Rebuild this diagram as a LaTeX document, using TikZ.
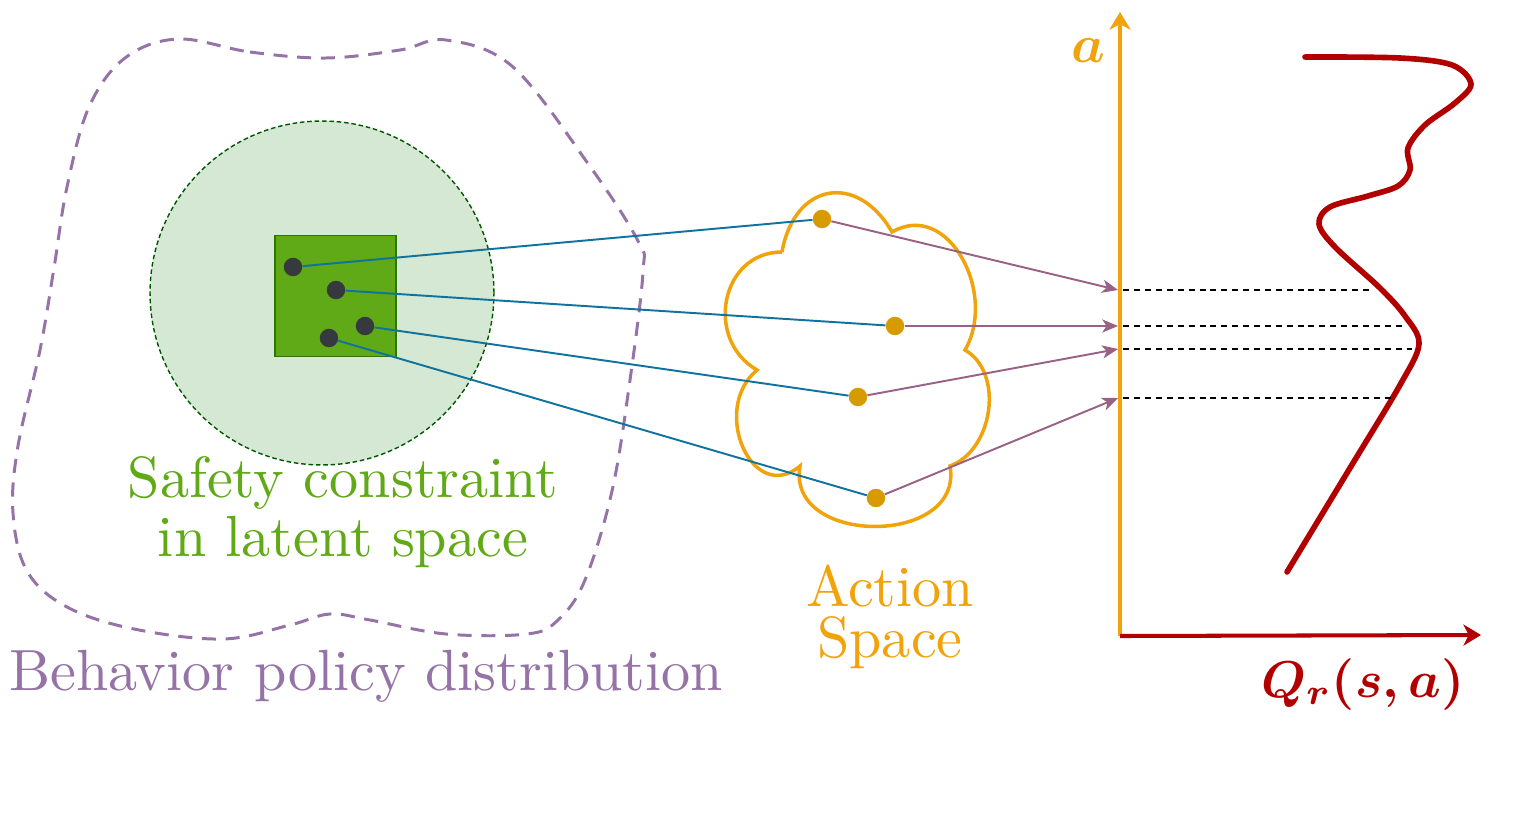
\documentclass[tikz,border=0pt]{standalone}
\usepackage{tikz}
\usepackage{amsmath}
\usetikzlibrary{arrows.meta}

\definecolor{behpurple}{HTML}{9673A6}
\definecolor{safelight}{HTML}{D5E8D4}
\definecolor{safedark}{HTML}{005700}
\definecolor{boxgreen}{HTML}{60A917}
\definecolor{boxedge}{HTML}{2D7600}
\definecolor{dotgray}{HTML}{36393D}
\definecolor{actgold}{HTML}{D79B00}
\definecolor{actorange}{HTML}{F0A30A}
\definecolor{mapblue}{HTML}{10739E}
\definecolor{arrpurple}{HTML}{996185}
\definecolor{qred}{HTML}{B20000}

\tikzstyle{bigtext} = [
    inner sep=0pt,
    scale=3.31,
    transform shape,
    font=\fontsize{10}{8.9}\selectfont
]
\tikzstyle{behavior} = [
    draw=behpurple,
    line width=1.7pt,
    dash pattern=on 8pt off 5.5pt
]
\tikzstyle{safezone} = [
    circle,
    minimum size=6.88cm,
    fill=safelight,
    draw=safedark,
    line width=0.8pt,
    dash pattern=on 2.6pt off 1.6pt
]
\tikzstyle{latentbox} = [
    rectangle,
    minimum size=2.42cm,
    fill=boxgreen,
    draw=boxedge,
    line width=1pt
]
\tikzstyle{latentdot} = [
    circle,
    minimum size=10.5pt,
    inner sep=0pt,
    fill=dotgray
]
\tikzstyle{actiondot} = [
    circle,
    minimum size=10.5pt,
    inner sep=0pt,
    fill=actgold
]
\tikzstyle{mapline} = [draw=mapblue, line width=1.1pt]
\tikzstyle{arrow} = [
    draw=arrpurple,
    line width=1.1pt,
    -{Stealth[length=9pt, width=7.5pt, inset=2.5pt]}
]
\tikzstyle{cloudline} = [draw=actorange, line width=2pt]
\tikzstyle{actaxis} = [
    draw=actorange,
    line width=2.3pt,
    -{Stealth[length=10pt, width=12pt, inset=3pt]}
]
\tikzstyle{qaxis} = [
    draw=qred,
    line width=2.3pt,
    -{Stealth[length=10pt, width=12pt, inset=3pt]}
]
\tikzstyle{qcurve} = [draw=qred, line width=3.2pt]
\tikzstyle{guide} = [
    draw=black,
    line width=0.85pt,
    dash pattern=on 3.4pt off 2.8pt
]

\begin{document}
\begin{tikzpicture}[x=0.02cm, y=0.02cm]
\useasboundingbox (0,0) rectangle (1522,-829);

% behavior policy region
\draw[behavior] plot[smooth cycle, tension=0.6] coordinates {
    (178,-39) (250,-52) (326,-58) (400,-50) (446,-40) (513,-67)
    (589,-165) (638,-241) (643,-272) (630,-380) (612,-491) (585,-580)
    (558,-620) (527,-634) (446,-634) (370,-620) (330,-614) (290,-625)
    (223,-639) (134,-629) (67,-607) (27,-571) (13,-513) (18,-446)
    (40,-350) (54,-268) (67,-187) (89,-107) (125,-58)};
\node (behlabel) [bigtext, text=behpurple, anchor=base west] at (8,-690)
{Behavior policy distribution};

% safety constraint
\node (safe) [safezone] at (322,-293) {};
\node (box) [latentbox] at (335.5,-296) {};
\node (z1) [latentdot] at (293,-267) {};
\node (z2) [latentdot] at (336,-290) {};
\node (z3) [latentdot] at (365,-326) {};
\node (z4) [latentdot] at (329,-338) {};
\node (safelabel) [bigtext, text=boxgreen, align=center, anchor=base] at (343,-556)
{Safety constraint\\in latent space};

% action space
\draw[cloudline] (782,-252)
    to[out=80, in=120, looseness=1.6] (892,-232)
    to[out=30, in=60, looseness=1.2] (965,-350)
    to[out=-30, in=20, looseness=1] (950,-466)
    to[out=-80, in=-100, looseness=1.4] (800,-466)
    to[out=-140, in=-140, looseness=1.5] (757,-370)
    to[out=150, in=180, looseness=1.3] (782,-252);
\node (u1) [actiondot] at (822,-219) {};
\node (u2) [actiondot] at (895,-326) {};
\node (u3) [actiondot] at (858,-397) {};
\node (u4) [actiondot] at (876,-498) {};
\node (actlabel) [bigtext, text=actorange, align=center, anchor=base,
    font=\fontsize{10}{8.6}\selectfont] at (890,-657)
{Action\\Space};

% axes
\coordinate (origin) at (1120,-636);
\coordinate (ytop) at (1120,-12);
\coordinate (xend) at (1481,-635);
\draw[actaxis] (origin) -- (ytop);
\draw[qaxis] (origin) -- (xend);
\node (alabel) [bigtext, scale=0.92, text=actorange, anchor=base] at (1088,-62) {$\boldsymbol{a}$};
\node (qlabel) [bigtext, scale=0.89, text=qred, anchor=base] at (1363,-697) {$\boldsymbol{Q_r(s,a)}$};

% Q curve
\draw[qcurve, line cap=round] plot[smooth, tension=0.55] coordinates {
    (1305,-57) (1400,-58) (1452,-65) (1471,-84) (1455,-103) (1425,-125)
    (1408,-148) (1410,-170) (1398,-186) (1368,-196) (1330,-207) (1319,-224)
    (1335,-247) (1380,-288) (1405,-316) (1419,-344) (1400,-385)
    (1350,-468) (1287,-572)};

% axis hits and curve values
\coordinate (h1) at (1118,-290);
\coordinate (h2) at (1118,-326);
\coordinate (h3) at (1118,-349);
\coordinate (h4) at (1118,-398);
\coordinate (q1) at (1370,-290);
\coordinate (q2) at (1402,-326);
\coordinate (q3) at (1418,-349);
\coordinate (q4) at (1393,-398);

\draw[mapline] (z1) -- (u1);
\draw[mapline] (z2) -- (u2);
\draw[mapline] (z3) -- (u3);
\draw[mapline] (z4) -- (u4);

\draw[arrow] (u1) -- (h1);
\draw[arrow] (u2) -- (h2);
\draw[arrow] (u3) -- (h3);
\draw[arrow] (u4) -- (h4);

\draw[guide] (h1) ++(3pt,0) -- (q1);
\draw[guide] (h2) ++(3pt,0) -- (q2);
\draw[guide] (h3) ++(3pt,0) -- (q3);
\draw[guide] (h4) ++(3pt,0) -- (q4);

\end{tikzpicture}
\end{document}
